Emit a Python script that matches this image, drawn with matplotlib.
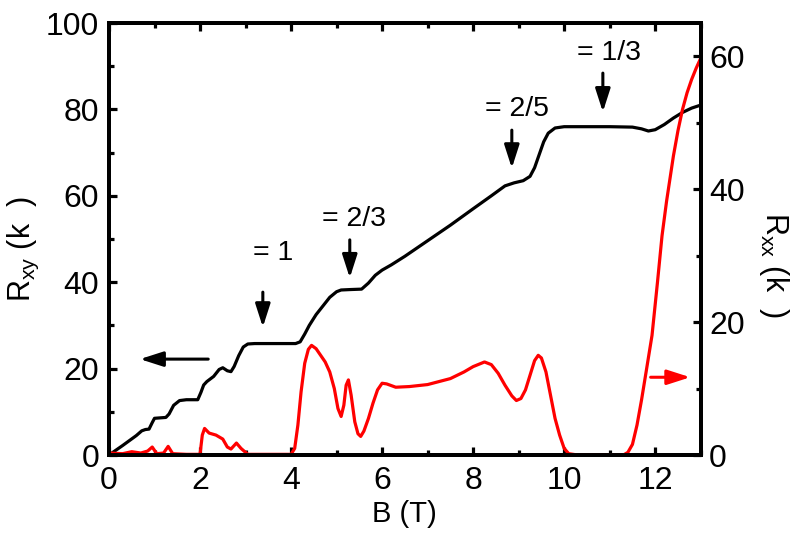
import numpy as np
import matplotlib
matplotlib.use("Agg")
import matplotlib.pyplot as plt
from matplotlib.ticker import MultipleLocator

plt.rcParams["font.family"] = ["Liberation Sans", "DejaVu Sans"]
plt.rcParams["mathtext.default"] = "regular"

# Hall resistance R_xy (kOhm) vs B (T)
b_xy = [0.0, 0.3, 0.6, 0.72, 0.8, 0.88, 0.95, 1.0, 1.25, 1.32, 1.42, 1.55, 1.7, 1.95,
        2.02, 2.08, 2.15, 2.3, 2.42, 2.5, 2.6, 2.68, 2.75, 2.85, 2.95, 3.05, 3.2, 4.1,
        4.2, 4.3, 4.4, 4.55, 4.7, 4.85, 5.0, 5.1, 5.3, 5.55, 5.7, 5.85, 6.0, 6.2, 6.5,
        7.0, 7.5, 8.0, 8.4, 8.7, 8.9, 9.1, 9.25, 9.35, 9.45, 9.55, 9.65, 9.8, 10.0,
        11.0, 11.5, 11.7, 11.85, 12.0, 12.2, 12.4, 12.6, 12.8, 13.0]
r_xy = [0.0, 2.2, 4.5, 5.6, 5.9, 6.0, 7.5, 8.5, 8.7, 9.5, 11.5, 12.6, 12.8, 12.8,
        14.5, 16.2, 17.0, 18.2, 19.8, 20.2, 19.5, 19.3, 20.5, 23.0, 25.0, 25.7, 25.8, 25.8,
        26.2, 28.0, 30.0, 32.5, 34.5, 36.5, 37.8, 38.2, 38.3, 38.4, 39.8, 41.6, 42.8, 44.0, 46.0,
        49.6, 53.2, 57.0, 60.0, 62.3, 63.0, 63.5, 64.5, 66.5, 69.5, 72.5, 74.5, 75.7, 76.0,
        76.0, 75.9, 75.5, 75.0, 75.3, 76.5, 78.0, 79.3, 80.3, 81.0]

# longitudinal resistance R_xx (kOhm) vs B (T)
b_xx = [0.0, 0.3, 0.5, 0.7, 0.85, 0.95, 1.05, 1.2, 1.3, 1.4, 1.7, 2.0, 2.05, 2.1, 2.2,
        2.35, 2.5, 2.6, 2.68, 2.8, 2.9, 3.05, 4.0, 4.08, 4.15, 4.22, 4.3, 4.38, 4.45, 4.55,
        4.65, 4.75, 4.85, 4.95, 5.03, 5.1, 5.16, 5.21, 5.26, 5.32, 5.4, 5.47, 5.53, 5.6,
        5.7, 5.8, 5.9, 6.0, 6.1, 6.3, 6.6, 7.0, 7.5, 7.8, 8.0, 8.25, 8.4, 8.55, 8.7, 8.85,
        8.95, 9.05, 9.15, 9.25, 9.35, 9.43, 9.5, 9.6, 9.7, 9.8, 9.9, 10.0, 10.1, 10.3,
        11.3, 11.4, 11.5, 11.6, 11.7, 11.8, 11.93, 12.05, 12.15, 12.25, 12.4, 12.5, 12.6,
        12.7, 12.8, 12.9, 13.0]
r_xx = [0.3, 0.2, 0.5, 0.3, 0.6, 1.2, 0.2, 0.3, 1.3, 0.2, 0.1, 0.1, 3.0, 4.0, 3.3,
        3.0, 2.4, 1.2, 0.9, 1.8, 1.0, 0.1, 0.1, 1.0, 4.5, 9.5, 13.8, 15.9, 16.5, 16.0,
        15.0, 14.0, 12.5, 10.0, 7.0, 5.8, 7.5, 10.5, 11.3, 9.0, 5.0, 3.2, 2.8, 3.6,
        5.5, 7.8, 9.8, 10.8, 10.7, 10.2, 10.3, 10.6, 11.5, 12.5, 13.3, 14.0, 13.6, 12.3, 10.5, 8.9,
        8.2, 8.5, 9.8, 12.0, 14.2, 15.0, 14.6, 12.5, 9.0, 5.5, 3.0, 1.0, 0.2, 0.0,
        0.0, 0.4, 1.6, 4.5, 8.3, 12.5, 18.0, 26.0, 33.0, 38.2, 45.0, 48.8, 52.0,
        54.5, 56.5, 58.2, 59.7]

# filling factor labels: text, text position, arrow x and start/end (in R_xy units)
nu_labels = ["= 1", "= 2/3", "= 2/5", "= 1/3"]
nu_text_xy = [(3.16, 46.8), (4.68, 54.6), (8.26, 80.1), (10.28, 93.0)]
nu_arrow_b = [3.38, 5.29, 8.85, 10.85]
nu_arrow_top = [37.7, 49.8, 75.2, 88.4]
nu_arrow_bot = [29.6, 41.0, 66.4, 79.4]

arrow_style = "-|>,head_length=1.4,head_width=0.45"

fig = plt.figure(figsize=(7.99, 5.35), dpi=100)
ax = fig.add_axes([0.1364, 0.1495, 0.7406, 0.8075])
ax2 = ax.twinx()

ax.plot(b_xy, r_xy, color="black", lw=2.3)
ax2.plot(b_xx, r_xx, color="red", lw=2.3)

ax.set_xlim(0, 13)
ax.set_ylim(0, 100)
ax2.set_ylim(0, 65)

ax.xaxis.set_major_locator(MultipleLocator(2))
ax.xaxis.set_minor_locator(MultipleLocator(1))
ax.yaxis.set_major_locator(MultipleLocator(20))
ax.yaxis.set_minor_locator(MultipleLocator(10))
ax2.yaxis.set_major_locator(MultipleLocator(20))
ax2.yaxis.set_minor_locator(MultipleLocator(10))

for a in (ax, ax2):
    for s in a.spines.values():
        s.set_linewidth(2.8)
ax.tick_params(which="both", direction="in", top=True, right=False, width=2.3,
               labelsize=23)
ax.tick_params(which="major", length=6)
ax.tick_params(which="minor", length=3.5)
ax.tick_params(axis="x", pad=8)
ax.tick_params(axis="y", pad=7)
ax2.tick_params(which="both", direction="in", width=2.3, labelsize=23, pad=6)
ax2.tick_params(which="major", length=6)
ax2.tick_params(which="minor", length=3.5)

ax.set_xlabel("B (T)", fontsize=21, labelpad=3)
fig.text(0.0294, 0.4355, "R$_{xy}$ (k  )", fontsize=22, rotation=90,
         ha="center", va="bottom")
fig.text(0.9687, 0.6037, "R$_{xx}$ (k  )", fontsize=22, rotation=270,
         ha="center", va="top")

for lab, (tx, ty), xb, yt, yb in zip(nu_labels, nu_text_xy, nu_arrow_b,
                                      nu_arrow_top, nu_arrow_bot):
    ax.text(tx, ty, lab, fontsize=20.5, ha="left", va="center")
    ax.annotate("", xy=(xb, yb), xytext=(xb, yt),
                arrowprops=dict(arrowstyle=arrow_style, color="black", lw=2.2,
                                shrinkA=0, shrinkB=0))

ax.annotate("", xy=(0.68, 22.2), xytext=(2.18, 22.2),
            arrowprops=dict(arrowstyle=arrow_style, color="black", lw=2.2,
                            shrinkA=0, shrinkB=0))
ax2.annotate("", xy=(12.77, 11.7), xytext=(11.9, 11.7),
             arrowprops=dict(arrowstyle=arrow_style, color="red", lw=2.2,
                             shrinkA=0, shrinkB=0))

fig.savefig("out.png", dpi=100)
